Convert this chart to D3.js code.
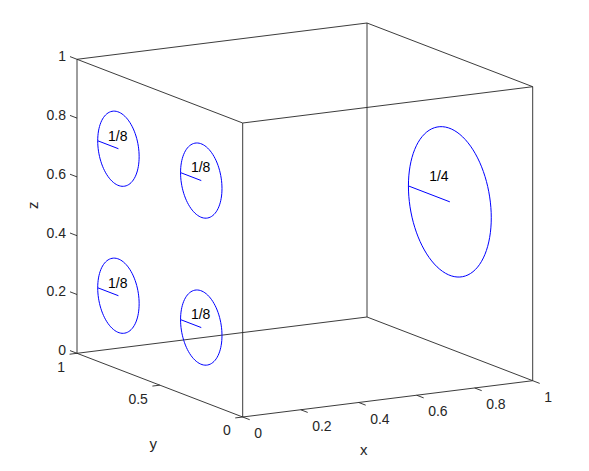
<!DOCTYPE html>
<html>
<head>
<meta charset="utf-8">
<script src="https://cdn.jsdelivr.net/npm/d3@7"></script>
<style>
  body { margin: 0; background: #fff; }
  svg { display: block; font-family: "Liberation Sans", Arial, Helvetica, sans-serif; }
</style>
</head>
<body>
<svg width="589" height="471"></svg>
<script>
// circles lying in the plane x = const
var circleX = [0, 0, 0, 0, 1];
var circleY = [0.75, 0.25, 0.75, 0.25, 0.5];
var circleZ = [0.75, 0.75, 0.25, 0.25, 0.5];
var circleR = [1/8, 1/8, 1/8, 1/8, 1/4];
var circleLabels = ["1/8", "1/8", "1/8", "1/8", "1/4"];

var xTicks = [0, 0.2, 0.4, 0.6, 0.8, 1];
var yTicks = [0, 0.5, 1];
var zTicks = [0, 0.2, 0.4, 0.6, 0.8, 1];

var svg = d3.select("svg");

// data -> unit cube
var xScale = d3.scaleLinear().domain([0, 1]).range([0, 1]);
var yScale = d3.scaleLinear().domain([0, 1]).range([0, 1]);
var zScale = d3.scaleLinear().domain([0, 1]).range([0, 1]);

// orthographic view of the unit cube
var origin = [242.7, 417];
var ex = [290, -36.3];
var ey = [-165.7, -63.7];
var ez = [0, -294];

function proj(x, y, z) {
    var u = xScale(x), v = yScale(y), w = zScale(z);
    return [origin[0] + u * ex[0] + v * ey[0] + w * ez[0],
            origin[1] + u * ex[1] + v * ey[1] + w * ez[1]];
}
function unit(v) {
    var l = Math.sqrt(v[0] * v[0] + v[1] * v[1]);
    return [v[0] / l, v[1] / l];
}

var axisColor = "#262626";
var fs = 14;
var line = d3.line();
var g = svg.append("g");

// box edges
var corners = [[0,0,0],[1,0,0],[1,1,0],[0,1,0],[0,0,1],[1,0,1],[1,1,1],[0,1,1]];
var edges = [[0,1],[1,2],[2,3],[3,0],[4,5],[5,6],[6,7],[7,4],[0,4],[1,5],[2,6],[3,7]];
g.selectAll(".edge")
    .data(edges)
    .enter().append("path")
    .attr("class", "edge")
    .attr("d", function (e) {
        var a = corners[e[0]], b = corners[e[1]];
        return line([proj(a[0], a[1], a[2]), proj(b[0], b[1], b[2])]);
    })
    .attr("fill", "none")
    .attr("stroke", axisColor)
    .attr("stroke-width", 0.9);

// ticks
var tickLen = 7.5;
var dxT = unit([-ey[0], -ey[1]]);   // x ticks point toward -y
var dyT = unit([-ex[0], -ex[1]]);   // y ticks point toward -x
var dzT = unit(ey);                 // z ticks point toward +y

function addTicks(vals, pt, dir, cls, anchor, off) {
    g.selectAll("." + cls)
        .data(vals)
        .enter().append("path")
        .attr("class", cls)
        .attr("d", function (v) {
            var p = pt(v);
            return line([p, [p[0] + dir[0] * tickLen, p[1] + dir[1] * tickLen]]);
        })
        .attr("stroke", axisColor)
        .attr("stroke-width", 0.9);
    g.selectAll("." + cls + "l")
        .data(vals)
        .enter().append("text")
        .attr("class", cls + "l")
        .attr("x", function (v) { return pt(v)[0] + dir[0] * tickLen + off[0]; })
        .attr("y", function (v) { return pt(v)[1] + dir[1] * tickLen + off[1]; })
        .attr("text-anchor", anchor)
        .attr("dominant-baseline", "central")
        .attr("font-size", fs)
        .attr("fill", axisColor)
        .text(function (v) { return v; });
}

addTicks(xTicks, function (v) { return proj(v, 0, 0); }, dxT, "xt", "start", [4.5, 13.4]);
addTicks(yTicks, function (v) { return proj(0, v, 0); }, dyT, "yt", "end", [-4.5, 12.5]);
addTicks(zTicks, function (v) { return proj(0, 1, v); }, dzT, "zt", "end", [-4, -0.5]);

// axis labels
var px = proj(0.5, 0, 0), py = proj(0, 0.5, 0), pz = proj(0, 1, 0.5);
g.append("text").attr("x", px[0] - 24).attr("y", px[1] + 51)
    .attr("text-anchor", "middle").attr("dominant-baseline", "central")
    .attr("font-size", 15).attr("fill", axisColor).text("x");
g.append("text").attr("x", py[0] - 6.5).attr("y", py[1] + 58)
    .attr("text-anchor", "middle").attr("dominant-baseline", "central")
    .attr("font-size", 15).attr("fill", axisColor).text("y");
g.append("text")
    .attr("transform", "translate(" + (pz[0] - 45) + "," + (pz[1] - 1) + ") rotate(-90)")
    .attr("text-anchor", "middle").attr("dominant-baseline", "central")
    .attr("font-size", 15).attr("fill", axisColor).text("z");

// circles with a radius segment and label
var idx = d3.range(circleX.length);
var ts = d3.range(0, 361, 4).map(function (d) { return d * Math.PI / 180; });

g.selectAll(".circ")
    .data(idx)
    .enter().append("path")
    .attr("class", "circ")
    .attr("d", function (i) {
        return line(ts.map(function (t) {
            return proj(circleX[i], circleY[i] + circleR[i] * Math.cos(t), circleZ[i] + circleR[i] * Math.sin(t));
        })) + "Z";
    })
    .attr("fill", "none")
    .attr("stroke", "#0000ff")
    .attr("stroke-width", 1);

g.selectAll(".rad")
    .data(idx)
    .enter().append("path")
    .attr("class", "rad")
    .attr("d", function (i) {
        return line([proj(circleX[i], circleY[i], circleZ[i]),
                     proj(circleX[i], circleY[i] + circleR[i], circleZ[i])]);
    })
    .attr("stroke", "#0000ff")
    .attr("stroke-width", 1);

g.selectAll(".lab")
    .data(idx)
    .enter().append("text")
    .attr("class", "lab")
    .attr("x", function (i) { return proj(circleX[i], circleY[i] + circleR[i] / 2, circleZ[i] + circleR[i] / 4)[0]; })
    .attr("y", function (i) { return proj(circleX[i], circleY[i] + circleR[i] / 2, circleZ[i] + circleR[i] / 4)[1]; })
    .attr("text-anchor", "start")
    .attr("dominant-baseline", "central")
    .attr("font-size", fs)
    .attr("fill", "#000")
    .text(function (i) { return circleLabels[i]; });
</script>
</body>
</html>
